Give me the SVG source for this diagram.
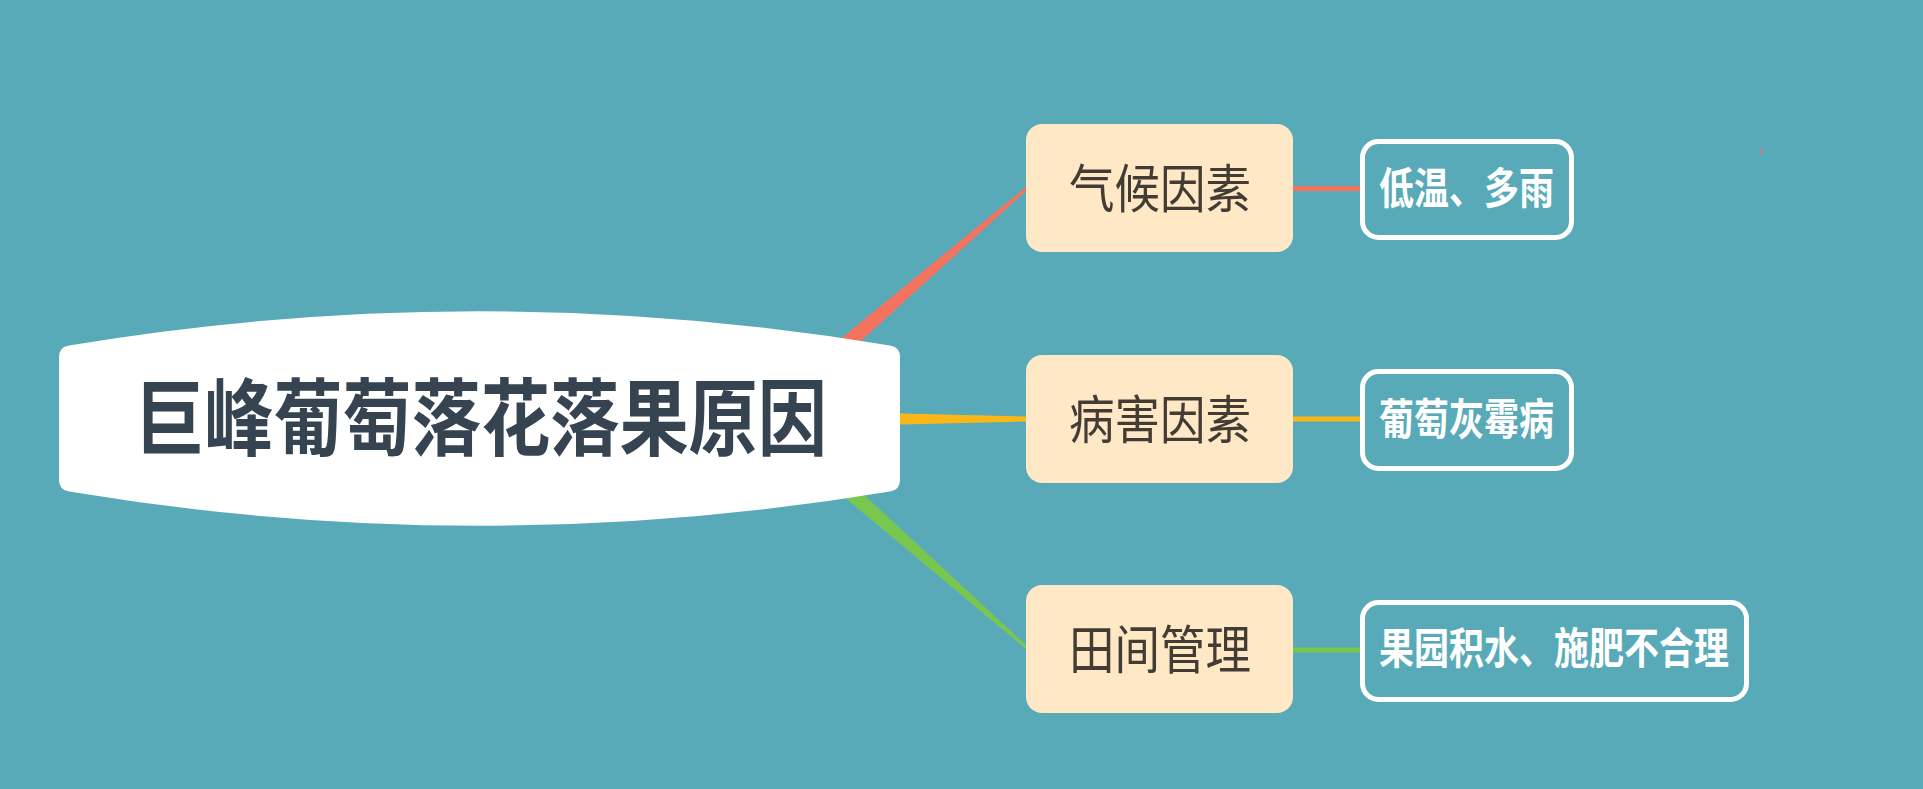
<svg xmlns="http://www.w3.org/2000/svg" width="1923" height="789" viewBox="0 0 1923 789">
<style>
.title{font-family:"Noto Sans CJK SC","Liberation Sans",sans-serif;font-weight:bold;font-size:84px;fill:#364350}
.branch rect{fill:#fee8c6}
.branch text{font-family:"Noto Sans CJK SC","Liberation Sans",sans-serif;font-size:52px;fill:#433c34;text-anchor:middle}
.leaf rect{fill:none;stroke:#ffffff;stroke-width:5}
.leaf text{font-family:"Noto Sans CJK SC","Liberation Sans",sans-serif;font-weight:bold;font-size:43px;fill:#ffffff}
</style>
<rect x="0" y="0" width="1923" height="789" fill="#59aab8"/>
<g id="connectors">
  <path d="M 794,377 L 806,391 L 1028,189 L 1026,187 Z" fill="#f4735e"/>
  <path d="M 880,413 L 880,425 L 1028,421.5 L 1028,416.5 Z" fill="#fbb617"/>
  <path d="M 806,441 L 794,455 L 1026,649 L 1028,647 Z" fill="#7ac74f"/>
  <line x1="1293" y1="188.5" x2="1362" y2="188.5" stroke="#f4735e" stroke-width="5"/>
  <line x1="1293" y1="419" x2="1362" y2="419" stroke="#fbb617" stroke-width="5"/>
  <line x1="1293" y1="650" x2="1362" y2="650" stroke="#7ac74f" stroke-width="5"/>
</g>
<g id="root">
  <path d="M 59,357 Q 59,347 69,345.5 Q 480,277 890,345.5 Q 900,347 900,357 L 900,480 Q 900,490 890,491.5 Q 480,560 69,491.5 Q 59,490 59,480 Z" fill="#ffffff"/>
  <text class="title" x="135" y="449" textLength="692" lengthAdjust="spacingAndGlyphs">巨峰葡萄落花落果原因</text>
</g>
<g id="branch-climate" class="branch">
  <rect x="1026" y="124" width="267" height="128" rx="16"/>
  <text x="1160" y="208" textLength="182" lengthAdjust="spacingAndGlyphs">气候因素</text>
</g>
<g id="branch-disease" class="branch">
  <rect x="1026" y="355" width="267" height="128" rx="16"/>
  <text x="1160" y="439" textLength="182" lengthAdjust="spacingAndGlyphs">病害因素</text>
</g>
<g id="branch-field" class="branch">
  <rect x="1026" y="585" width="267" height="128" rx="16"/>
  <text x="1160" y="669" textLength="182" lengthAdjust="spacingAndGlyphs">田间管理</text>
</g>
<g id="leaf-climate" class="leaf">
  <rect x="1362.5" y="141.5" width="209" height="96" rx="16"/>
  <text x="1379" y="204" textLength="175" lengthAdjust="spacingAndGlyphs">低温、多雨</text>
</g>
<g id="leaf-disease" class="leaf">
  <rect x="1362.5" y="371.5" width="209" height="97" rx="16"/>
  <text x="1379" y="435" textLength="175" lengthAdjust="spacingAndGlyphs">葡萄灰霉病</text>
</g>
<g id="leaf-field" class="leaf">
  <rect x="1362.5" y="602.5" width="384" height="97" rx="16"/>
  <text x="1379" y="664" textLength="350" lengthAdjust="spacingAndGlyphs">果园积水、施肥不合理</text>
</g>
<path d="M 1761.5,149 L 1761.5,154 M 1761.5,149 L 1763.5,150 L 1761.5,151" stroke="#f4735e" stroke-width="1" fill="none"/>
</svg>
